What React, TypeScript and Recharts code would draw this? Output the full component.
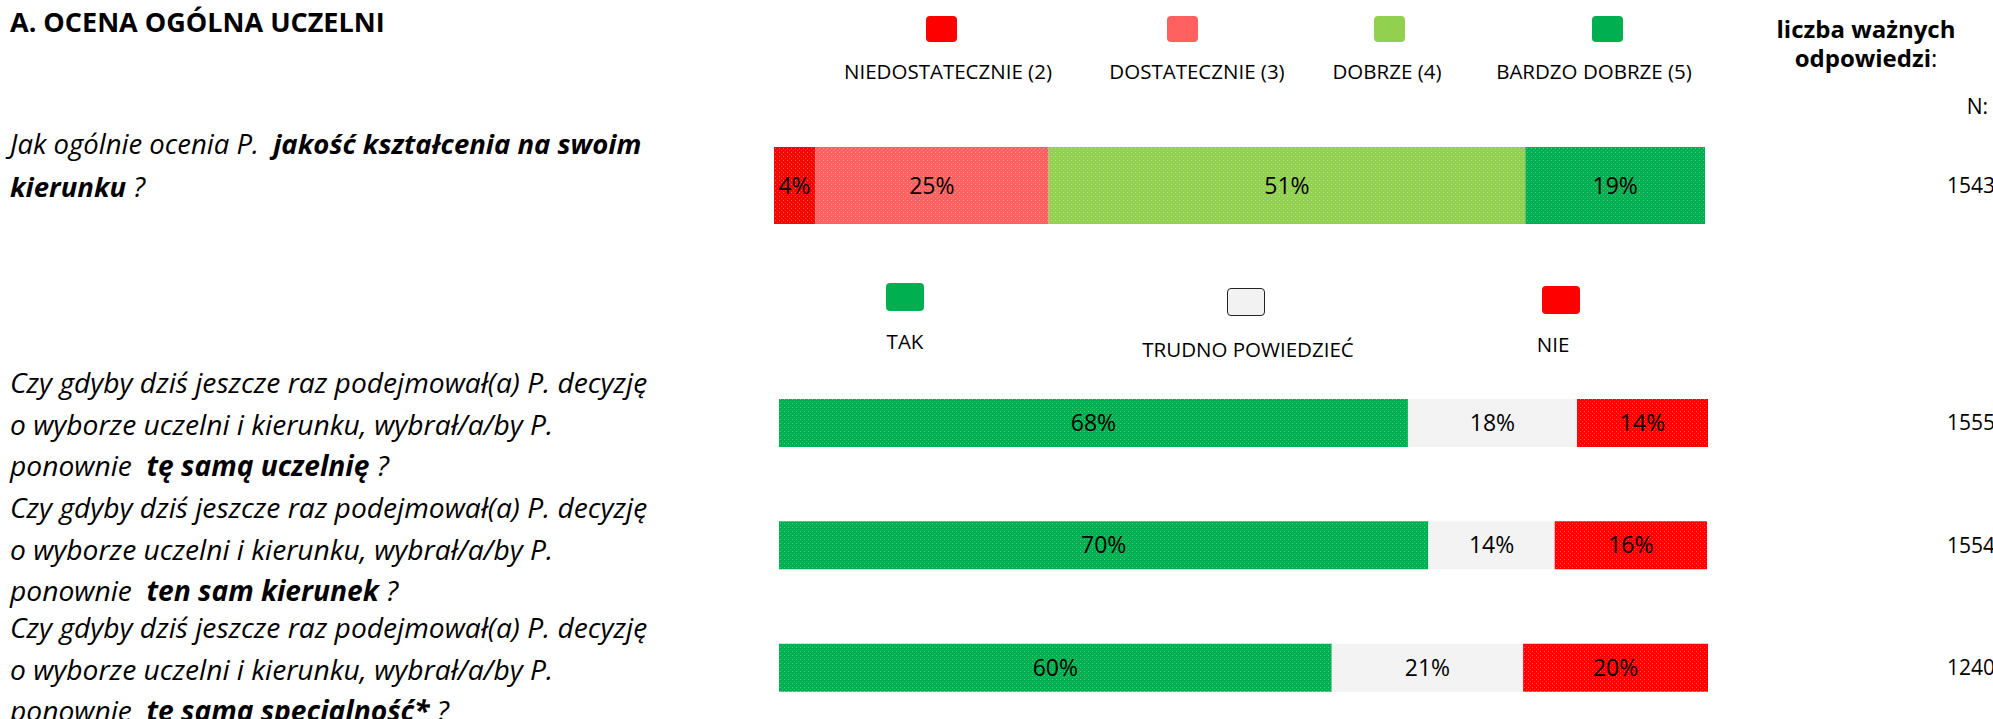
import React from 'react';
import { BarChart, Bar, XAxis, YAxis, LabelList } from 'recharts';

// ocena ogólna – skala ocen
const ratingNames = ['NIEDOSTATECZNIE (2)', 'DOSTATECZNIE (3)', 'DOBRZE (4)', 'BARDZO DOBRZE (5)'];
const ratingKeys = ['r2', 'r3', 'r4', 'r5'];
const ratingColors = ['#FF0000', '#FF6161', '#92D050', '#00B050'];
const ratingValues = [4.4, 25.1, 51.2, 19.3];
const ratingN = [1543];

// pytania tak / trudno powiedzieć / nie
const choiceNames = ['TAK', 'TRUDNO POWIEDZIEĆ', 'NIE'];
const choiceKeys = ['tak', 'trudno', 'nie'];
const choiceColors = ['#00B050', '#F2F2F2', '#FF0000'];
const choiceQuestions = ['tę samą uczelnię', 'ten sam kierunek', 'tę samą specjalność*'];
const takValues = [67.7, 69.9, 59.5];
const trudnoValues = [18.2, 13.6, 20.6];
const nieValues = [14.1, 16.4, 19.9];
const choiceN = [1555, 1554, 1240];

const ratingData = [
  {
    q: 'jakość kształcenia na swoim kierunku',
    n: ratingN[0],
    ...Object.fromEntries(ratingKeys.map((k, i) => [k, ratingValues[i]])),
  },
];

const choiceData = choiceQuestions.map((q, i) => ({
  q,
  n: choiceN[i],
  tak: takValues[i],
  trudno: trudnoValues[i],
  nie: nieValues[i],
}));

const FONT = '"Open Sans", sans-serif';

const pct = (v: any) => `${Math.round(Number(v))}%`;

const NTick = (shift: number) => (props: any) => {
  const { x, y, payload } = props;
  return (
    <text x={x + shift} y={y} dy={7} textAnchor="end" fontSize={21} fontFamily={FONT} fill="#000">
      {payload.value}
    </text>
  );
};

const Patterns = ({ colors }: { colors: string[] }) => (
  <defs>
    {colors.map((c, i) => (
      <pattern key={i} id={`pat-${c.slice(1)}`} width="4" height="4" patternUnits="userSpaceOnUse">
        <rect width="4" height="4" fill={c} />
        <rect x="1" y="1" width="1" height="1" fill="#fff" opacity="0.35" />
        <rect x="3" y="3" width="1" height="1" fill="#fff" opacity="0.2" />
      </pattern>
    ))}
  </defs>
);

const Txt = ({ x, cy, size, children, style }: any) => (
  <div
    style={{
      position: 'absolute',
      left: x,
      top: cy - size * 0.75,
      lineHeight: `${size * 1.5}px`,
      fontSize: size,
      whiteSpace: 'nowrap',
      fontFamily: FONT,
      ...style,
    }}
  >
    {children}
  </div>
);

const CTxt = ({ cx, cy, size, children, style }: any) => (
  <Txt x={cx - 300} cy={cy} size={size} style={{ width: 600, textAlign: 'center', ...style }}>
    {children}
  </Txt>
);

const Swatch = ({ cx, y, w, h, color, border }: any) => (
  <div
    style={{
      position: 'absolute',
      left: cx - w / 2,
      top: y,
      width: w,
      height: h,
      background: color,
      borderRadius: 4,
      boxSizing: 'border-box',
      border: border ? '1.5px solid #222' : 'none',
    }}
  />
);

// legend layout
const ratingSwatchX = [941, 1182, 1389, 1607];
const ratingLabelX = [948, 1197, 1387, 1594];
const choiceSwatchX = [905, 1246, 1561];
const choiceSwatchTop = [283, 288, 286];
const choiceLabelX = [905, 1248, 1553];
const choiceLabelY = [341, 349, 344];

const italic = { fontStyle: 'italic' };

export default function App() {
  return (
    <div style={{ position: 'absolute', left: 0, top: 0, width: 1993, height: 719, background: '#fff', color: '#000', overflow: 'hidden' }}>
      <Txt x={10} cy={22} size={27} style={{ fontWeight: 'bold' }}>
        A. OCENA OGÓLNA UCZELNI
      </Txt>

      <div style={{ position: 'absolute', left: 10, top: 122, fontFamily: FONT, fontSize: 27.5, lineHeight: '43px', ...italic, whiteSpace: 'nowrap' }}>
        Jak ogólnie ocenia P.&nbsp; <b>jakość kształcenia na swoim</b>
        <br />
        <b>kierunku</b> ?
      </div>

      {choiceQuestions.map((q, i) => (
        <div
          key={q}
          style={{
            position: 'absolute',
            left: 10,
            top: [362, 487, 607][i],
            fontFamily: FONT,
            fontSize: 28.2,
            lineHeight: '41.5px',
            ...italic,
            whiteSpace: 'nowrap',
          }}
        >
          Czy gdyby dziś jeszcze raz podejmował(a) P. decyzję
          <br />
          o wyborze uczelni i kierunku, wybrał/a/by P.
          <br />
          ponownie&nbsp; <b>{q}</b> ?
        </div>
      ))}

      {ratingNames.map((n, i) => (
        <React.Fragment key={n}>
          <Swatch cx={ratingSwatchX[i]} y={16} w={31} h={26} color={ratingColors[i]} />
          <CTxt cx={ratingLabelX[i]} cy={71} size={20.5}>
            {n}
          </CTxt>
        </React.Fragment>
      ))}

      {choiceNames.map((n, i) => (
        <React.Fragment key={n}>
          <Swatch cx={choiceSwatchX[i]} y={choiceSwatchTop[i]} w={38} h={28} color={choiceColors[i]} border={i === 1} />
          <CTxt cx={choiceLabelX[i]} cy={choiceLabelY[i]} size={20.5}>
            {n}
          </CTxt>
        </React.Fragment>
      ))}

      <div
        style={{
          position: 'absolute',
          left: 1866 - 150,
          top: 14,
          width: 300,
          textAlign: 'center',
          fontFamily: FONT,
          fontSize: 24,
          lineHeight: '29px',
          fontWeight: 'bold',
        }}
      >
        liczba ważnych
        <br />
        odpowiedzi<span style={{ fontWeight: 'normal' }}>:</span>
      </div>
      <div style={{ position: 'absolute', right: 5, top: 92, fontFamily: FONT, fontSize: 21 }}>N:</div>

      <div style={{ position: 'absolute', left: 774, top: 147 }}>
        <BarChart
          width={1219}
          height={77}
          data={ratingData}
          layout="vertical"
          barCategoryGap={0}
          margin={{ top: 0, right: 0, bottom: 0, left: 0 }}
        >
          <Patterns colors={ratingColors} />
          <XAxis type="number" domain={[0, 100]} hide />
          <YAxis yAxisId="l" type="category" dataKey="q" hide />
          <YAxis
            yAxisId="r"
            type="category"
            dataKey="n"
            orientation="right"
            width={288}
            axisLine={false}
            tickLine={false}
            tick={NTick(282)}
          />
          {ratingKeys.map((k, i) => (
            <Bar
              key={k}
              yAxisId="l"
              dataKey={k}
              name={ratingNames[i]}
              stackId="a"
              fill={`url(#pat-${ratingColors[i].slice(1)})`}
              isAnimationActive={false}
            >
              <LabelList dataKey={k} position="center" formatter={pct} fill="#000" fontSize={23} fontFamily={FONT} />
            </Bar>
          ))}
        </BarChart>
      </div>

      <div style={{ position: 'absolute', left: 779, top: 362 }}>
        <BarChart
          width={1214}
          height={367}
          data={choiceData}
          layout="vertical"
          barSize={48}
          margin={{ top: 0, right: 0, bottom: 0, left: 0 }}
        >
          <Patterns colors={choiceColors} />
          <XAxis type="number" domain={[0, 100]} hide />
          <YAxis yAxisId="l" type="category" dataKey="q" hide />
          <YAxis
            yAxisId="r"
            type="category"
            dataKey="n"
            orientation="right"
            width={285}
            axisLine={false}
            tickLine={false}
            tick={NTick(279)}
          />
          {choiceKeys.map((k, i) => (
            <Bar
              key={k}
              yAxisId="l"
              dataKey={k}
              name={choiceNames[i]}
              stackId="a"
              fill={`url(#pat-${choiceColors[i].slice(1)})`}
              isAnimationActive={false}
            >
              <LabelList dataKey={k} position="center" formatter={pct} fill="#000" fontSize={23} fontFamily={FONT} />
            </Bar>
          ))}
        </BarChart>
      </div>
    </div>
  );
}
